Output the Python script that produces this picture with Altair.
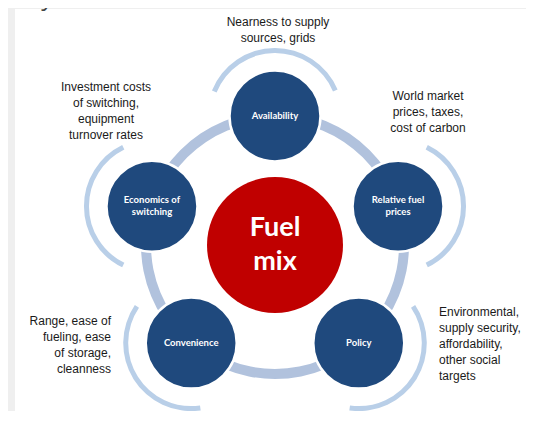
import altair as alt
import numpy as np
import pandas as pd

# ---- content -------------------------------------------------------------
title = "Key fuel mix drivers"
center_label = "Fuel\nmix"

nodes_one_line = ["Availability", "Policy", "Convenience"]
nodes_one_angle = [90, -49.5, -130.5]
nodes_two_line = ["Relative fuel\nprices", "Economics of\nswitching"]
nodes_two_angle = [17.5, 162.5]
ring_radius = 129

# outer arcs around each driver (degrees, counter-clockwise from east), same order as angles
arc_angle = [90, 17.5, -49.5, -130.5, 162.5]
arc_from = [23, -64, -98, 146, 116]
arc_to = [158, 64, 34, 278, 244]

# annotation blocks: position of the first line (diagram units, ring centre = 0,0)
notes_center = ["Nearness to supply\nsources, grids", "World market\nprices, taxes,\ncost of carbon",
                "Investment costs\nof switching,\nequipment\nturnover rates"]
notes_center_x = [3, 153, -169]
notes_center_y = [223, 149, 158]

notes_left = ["Environmental,\nsupply security,\naffordability,\nother social\ntargets"]
notes_left_x = [164]
notes_left_y = [-67]

notes_right = ["Range, ease of\nfueling, ease\nof storage,\ncleanness"]
notes_right_x = [-164]
notes_right_y = [-76]

# frame extents (diagram units)
x_domain = [-267, 251]
y_domain = [-166, 237]
panel_x = [-260, 251]
panel_y = [-166, 236]

# ---- tables --------------------------------------------------------------
def polar(angles):
    a = np.radians(np.array(angles, dtype=float))
    return ring_radius * np.cos(a), ring_radius * np.sin(a)

x1, y1 = polar(nodes_one_angle)
x2, y2 = polar(nodes_two_angle)
one_df = pd.DataFrame({"label": nodes_one_line, "x": x1, "y": y1})
two_df = pd.DataFrame({"label": nodes_two_line, "x": x2, "y": y2})
node_df = pd.concat([one_df, two_df], ignore_index=True)

ax, ay = polar(arc_angle)
arc_df = pd.DataFrame({
    "x": ax, "y": ay,
    "t0": np.radians(90 - np.array(arc_to, dtype=float)),
    "t1": np.radians(90 - np.array(arc_from, dtype=float)),
})

ring_df = pd.DataFrame({"x": [0.0], "y": [0.0], "t0": [0.0], "t1": [2 * np.pi]})
center_df = pd.DataFrame({"x": [0.0], "y": [0.0], "label": [center_label]})
panel_df = pd.DataFrame({"x": [panel_x[0]], "x2": [panel_x[1]], "y": [panel_y[0]], "y2": [panel_y[1]]})
title_df = pd.DataFrame({"x": [x_domain[0] + 5], "y": [y_domain[1] + 3], "label": [title]})

X = alt.X("x:Q", scale=alt.Scale(domain=x_domain, nice=False, zero=False), axis=None)
Y = alt.Y("y:Q", scale=alt.Scale(domain=y_domain, nice=False, zero=False), axis=None)

panel = alt.Chart(panel_df).mark_rect(color="#ffffff").encode(
    x=X, x2="x2:Q", y=Y, y2="y2:Q")

title_txt = alt.Chart(title_df).mark_text(
    align="left", baseline="alphabetic", font="Open Sans", fontSize=24, color="#444444"
).encode(x=X, y=Y, text="label:N")

ring = alt.Chart(ring_df).mark_arc(innerRadius=ring_radius - 5, outerRadius=ring_radius + 5,
                                   color="#b1c2dd").encode(
    x=X, y=Y, theta=alt.Theta("t0:Q", scale=None), theta2="t1:Q")

outer_arcs = alt.Chart(arc_df).mark_arc(innerRadius=63, outerRadius=68, color="#b9cfe8").encode(
    x=X, y=Y, theta=alt.Theta("t0:Q", scale=None), theta2="t1:Q")

blue = alt.Chart(node_df).mark_circle(size=8281, color="#1f497d", opacity=1,
                                      stroke="#ffffff", strokeWidth=2.5).encode(x=X, y=Y)

red = alt.Chart(center_df).mark_circle(size=18496, color="#c00000", opacity=1).encode(x=X, y=Y)

node_style = dict(font="Lato", fontWeight="bold", fontSize=9.5, color="#ffffff",
                  lineBreak="\n", lineHeight=12, align="center", baseline="middle")
node_txt1 = alt.Chart(one_df).mark_text(**node_style).encode(x=X, y=Y, text="label:N")
node_txt2 = alt.Chart(two_df).mark_text(dy=-6, **node_style).encode(x=X, y=Y, text="label:N")

center_txt = alt.Chart(center_df).mark_text(
    font="Lato", fontWeight="bold", fontSize=27, color="#ffffff", lineBreak="\n", lineHeight=34,
    align="center", baseline="middle", dy=-17
).encode(x=X, y=Y, text="label:N")

def notes_layer(labels, xs, ys, align):
    df = pd.DataFrame({"label": labels, "x": xs, "y": ys})
    return alt.Chart(df).mark_text(
        font="Liberation Sans", fontSize=12, color="#1a1a1a", lineBreak="\n", lineHeight=16,
        align=align, baseline="middle"
    ).encode(x=X, y=Y, text="label:N")

chart = alt.layer(
    panel, title_txt, ring, outer_arcs, blue, red, node_txt1, node_txt2, center_txt,
    notes_layer(notes_center, notes_center_x, notes_center_y, "center"),
    notes_layer(notes_left, notes_left_x, notes_left_y, "left"),
    notes_layer(notes_right, notes_right_x, notes_right_y, "right"),
).properties(
    width=518, height=403, padding=0,
    autosize=alt.AutoSizeParams(type="none"),
    background="#efefef",
).configure_view(strokeWidth=0)

chart.save("out.html", embed_options={"renderer": "svg", "actions": False})
